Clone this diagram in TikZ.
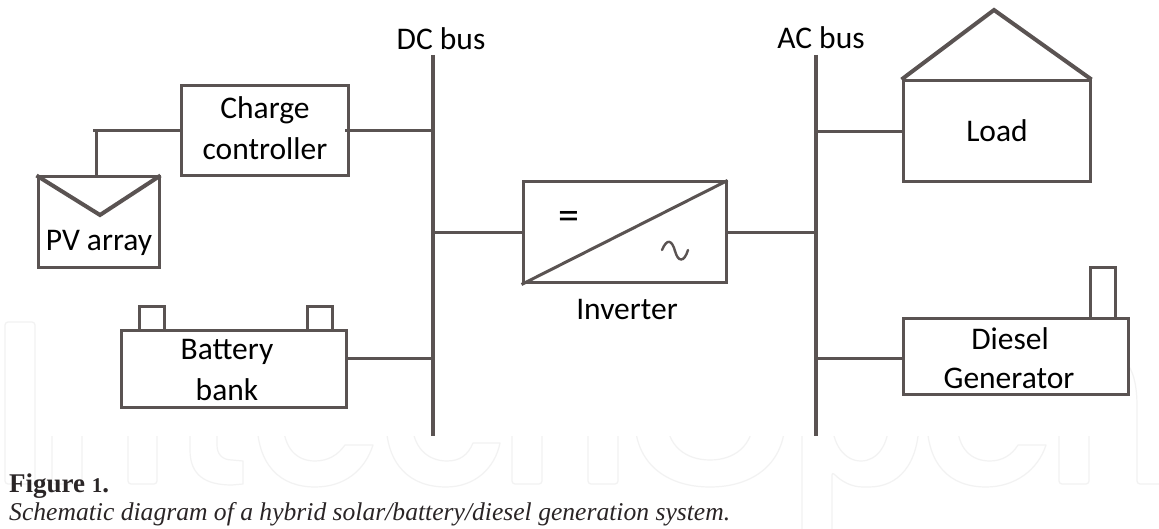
\documentclass[tikz,border=0pt]{standalone}
\usepackage{fontspec}
\setmainfont{Carlito}
\newfontfamily\capfont{Liberation Serif}
\definecolor{ink}{HTML}{5A5352}
\definecolor{wm}{HTML}{F2F2F2}
\definecolor{captxt}{HTML}{2A2526}
\tikzset{
  boxn/.style={draw=ink,line width=3pt,rectangle,inner sep=0pt,minimum width=#1},
  wire/.style={draw=ink,line width=3pt},
  busline/.style={draw=ink,line width=4pt},
  lbl/.style={inner sep=0pt,text=black,font=\fontsize{31.5}{34}\selectfont},
  mark line/.style={draw=wm,line width=1.2pt,line join=round},
}
\begin{document}
\begin{tikzpicture}[x=1pt,y=-1pt]
\useasboundingbox (0,0) rectangle (1159,529);
\fill[white] (0,0) rectangle (1159,529);
% pale background mark
\begin{scope}
\clip (0,436) rectangle (1159,529) (0,310) rectangle (38,436) (1128,310) rectangle (1159,436);
\draw[mark line,rounded corners=3pt] (5,322) rectangle (35,484);
\draw[mark line,rounded corners=3pt] (52,420) -- (52,484) -- (82,484) -- (82,420);
\draw[mark line,rounded corners=3pt] (128,420) -- (128,484) -- (157,484) -- (157,420);
\draw[mark line] (190,420) -- (190,450) .. controls (190,475) and (205,485) .. (232,485) -- (243,484) -- (243,461) -- (232,460) .. controls (222,460) and (217,454) .. (217,445) -- (217,420);
\draw[mark line] (257,420) .. controls (257,465) and (280,487) .. (315,487) .. controls (345,487) and (365,470) .. (373,445) -- (345,445) .. controls (338,455) and (328,461) .. (315,461) .. controls (298,461) and (283,450) .. (283,420);
\draw[mark line] (386,420) .. controls (386,465) and (410,487) .. (446,487) .. controls (475,487) and (495,468) .. (500,443) -- (473,443) .. controls (468,455) and (460,461) .. (447,461) .. controls (428,461) and (412,448) .. (412,420);
\draw[mark line,rounded corners=3pt] (512,420) -- (512,484) -- (542,484) -- (542,420);
\draw[mark line,rounded corners=3pt] (588,420) -- (588,484) -- (618,484) -- (618,420);
\draw[mark line] (635,420) .. controls (635,462) and (665,487) .. (710,487) .. controls (755,487) and (785,462) .. (785,420);
\draw[mark line] (667,420) .. controls (667,445) and (685,460) .. (710,460) .. controls (735,460) and (753,445) .. (753,420);
\draw[mark line,rounded corners=3pt] (802,420) -- (802,532) (832,532) -- (832,472) .. controls (842,482) and (852,487) .. (866,487) .. controls (898,487) and (919,465) .. (919,420);
\draw[mark line] (832,420) .. controls (832,445) and (845,461) .. (861,461) .. controls (877,461) and (889,445) .. (889,420);
\draw[mark line] (927,420) .. controls (927,465) and (950,487) .. (986,487) .. controls (1015,487) and (1038,470) .. (1046,445) -- (1018,445) .. controls (1012,455) and (1002,461) .. (990,461) .. controls (972,461) and (957,450) .. (957,420);
\draw[mark line,rounded corners=3pt] (1059,420) -- (1059,484) -- (1089,484) -- (1089,420);
\draw[mark line,rounded corners=3pt] (1128,365) .. controls (1135,375) and (1137,390) .. (1137,410) -- (1137,484) -- (1165,484);
\end{scope}
% buses
\coordinate (dcT) at (433,55);
\coordinate (dcB) at (433,436);
\coordinate (acT) at (816,55);
\coordinate (acB) at (816,436);
\draw[busline] (dcT) -- (dcB);
\draw[busline] (acT) -- (acB);
\node[lbl] (dclabel) at (441,39) {DC bus};
\node[lbl] (aclabel) at (821,38) {AC bus};
% boxes
\node[boxn=167pt,minimum height=90pt] (charge) at (264.5,131) {};
\node[boxn=121pt,minimum height=91pt] (pv) at (98.5,222.5) {};
\node[boxn=225pt,minimum height=77pt] (batt) at (233.5,368.5) {};
\node[boxn=203pt,minimum height=101pt] (inv) at (624.5,232.5) {};
\node[boxn=187pt,minimum height=101pt] (load) at (996.5,131.5) {};
\node[boxn=225pt,minimum height=76pt] (gen) at (1015.5,356) {};
% terminals and chimney
\node[boxn=25pt,minimum height=23pt] (termA) at (151.5,318.5) {};
\node[boxn=25pt,minimum height=23pt] (termB) at (319.5,318.5) {};
\node[boxn=25pt,minimum height=50pt] (chim) at (1102.5,293) {};
% symbol details
\coordinate (pvTip) at (100,215);
\draw[draw=ink,line width=4pt,line join=miter] (pv.north west) -- (pvTip) -- (pv.north east);
\coordinate (roof) at (994,10);
\draw[draw=ink,line width=4pt,line join=miter] (load.north west) -- (roof) -- (load.north east);
\draw[wire] (inv.south west) -- (inv.north east);
\coordinate (wA) at (662,250);
\coordinate (wB) at (688,250);
\draw[draw=ink,line width=2.4pt,line cap=round] (wA) .. controls (667,238) and (672,240) .. (675,251) .. controls (678,262) and (684,263) .. (wB);
% connectors
\coordinate (pvStubL) at (93,131);
\coordinate (pvUp) at (96,131);
\coordinate (pvTop) at (96,177);
\coordinate (chargeStub) at (345,131);
\draw[wire] (pvStubL) -- (charge.west);
\draw[wire] (pvUp) -- (pvTop);
\draw[wire] (chargeStub) -- (dcT |- chargeStub);
\coordinate (battR) at (346,358.5);
\draw[wire] (battR) -- (dcT |- battR);
\draw[wire] (dcT |- inv.west) -- (inv.west);
\draw[wire] (inv.east) -- (acT |- inv.east);
\draw[wire] (acT |- load.west) -- (load.west);
\coordinate (genL) at (903,358.5);
\draw[wire] (acT |- genL) -- (genL);
% labels
\node[lbl] (t1) at (265,110) {Charge};
\node[lbl] (t2) at (265,149) {controller};
\node[lbl] (t3) at (99,243) {PV array};
\node[lbl] (t4) at (227,352) {Battery};
\node[lbl] (t5) at (227,390) {bank};
\node[lbl] (t6) at (627,310) {Inverter};
\node[lbl] (t7) at (997,131) {Load};
\node[lbl] (t8) at (1010,339) {Diesel};
\node[lbl] (t9) at (1009,378) {Generator};
\node[inner sep=0pt,font=\fontsize{42}{44}\selectfont] (eq) at (569,220) {=};
% caption
\node[inner sep=0pt,anchor=base west,text=captxt,font=\capfont\bfseries\fontsize{27}{30}\selectfont] (fig) at (9,492) {Figure {\fontsize{21}{22}\selectfont 1}.};
\node[inner sep=0pt,anchor=base west,text=captxt,font=\capfont\itshape\fontsize{25.6}{28}\selectfont] (cap) at (9,520) {Schematic diagram of a hybrid solar/battery/diesel generation system.};
\end{tikzpicture}
\end{document}
